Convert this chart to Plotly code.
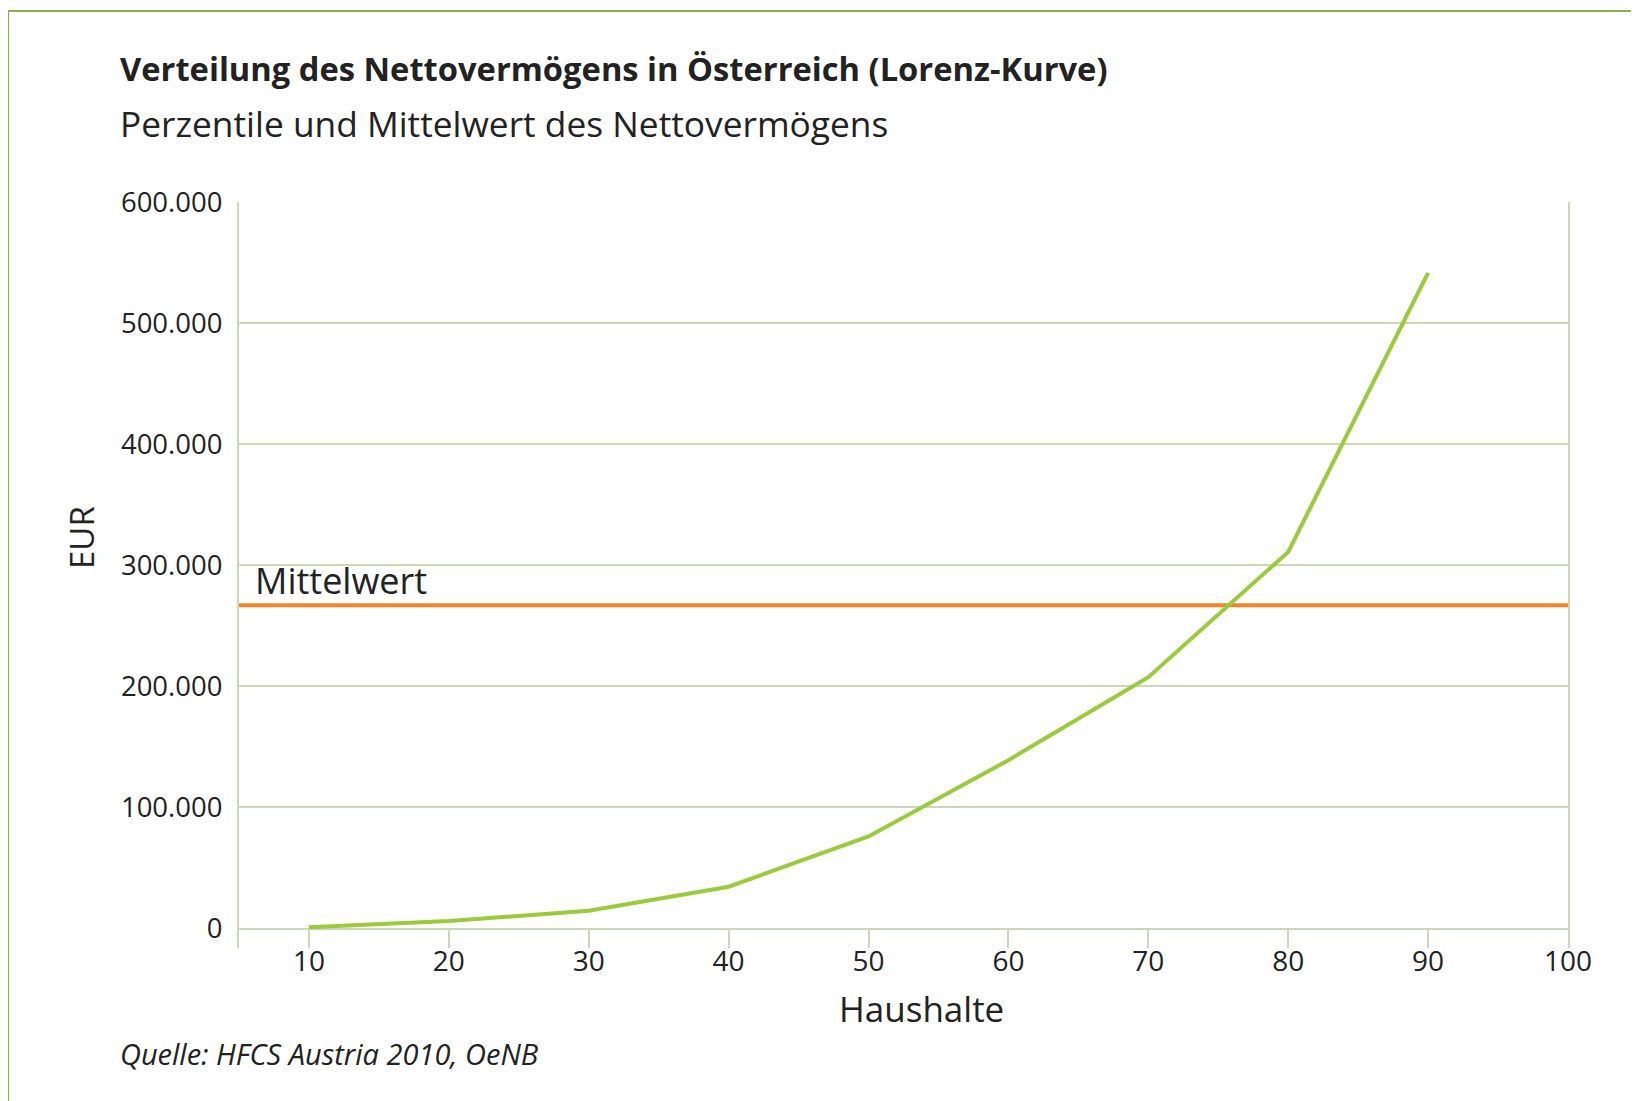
import plotly.graph_objects as go

# Data
percentiles = [10, 20, 30, 40, 50, 60, 70, 80, 90]
net_wealth = [1000, 6200, 14700, 34500, 76000, 139000, 207600, 311000, 541500]
mean_value = 267000
x_ticks = [10, 20, 30, 40, 50, 60, 70, 80, 90, 100]
y_ticks = [0, 100000, 200000, 300000, 400000, 500000, 600000]

W, H = 1639, 1101
OFF = 8  # page body margin offset
L, R, T, B = 239 - OFF, 1568 - OFF, 202 - OFF, 948 - OFF
pw, ph = R - L, B - T


def px(x):
    return (x - OFF - L) / pw


def py(y):
    return (B - (y - OFF)) / ph


FONT = "Open Sans"
GRID = "#CCD8B6"
GREEN = "#9ACB3A"
ORANGE = "#F5832A"
FRAME = "#8DAF4C"
TXT = "#222222"

fig = go.Figure()

fig.add_trace(go.Scatter(
    x=[5, 100], y=[mean_value, mean_value], mode="lines",
    line=dict(color=ORANGE, width=4), hoverinfo="skip", showlegend=False))

fig.add_trace(go.Scatter(
    x=percentiles, y=net_wealth, mode="lines",
    line=dict(color=GREEN, width=4), showlegend=False))

fig.update_layout(
    width=W, height=H,
    margin=dict(l=L, r=W - R, t=T, b=H - B, autoexpand=False),
    paper_bgcolor="white", plot_bgcolor="white",
    separators=",.",
    font=dict(family=FONT, color=TXT),
    xaxis=dict(
        range=[5, 100], tickvals=x_ticks, ticktext=[str(v) for v in x_ticks],
        showgrid=False, zeroline=False, showline=False,
        ticks="inside", ticklen=19, tickwidth=2, tickcolor=GRID,
        tickfont=dict(size=28, color=TXT), ticklabelstandoff=-6,
    ),
    yaxis=dict(
        range=[-16100, 600000], tickvals=y_ticks, tickformat=",d",
        showgrid=True, gridcolor=GRID, gridwidth=2, zeroline=False,
        showline=True, linecolor=GRID, linewidth=2, mirror=True,
        ticks="", tickfont=dict(size=27.5, color=TXT), ticklabelstandoff=9,
    ),
)

ann = [
    dict(text="<b>Verteilung des Nettovermögens in Österreich (Lorenz-Kurve)</b>",
         x=px(118), y=py(68), xanchor="left", yanchor="middle",
         font=dict(size=32.7, color=TXT)),
    dict(text="Perzentile und Mittelwert des Nettovermögens",
         x=px(118), y=py(123), xanchor="left", yanchor="middle",
         font=dict(size=35.3, color=TXT)),
    dict(text="EUR", x=px(81), y=py(538), xanchor="center", yanchor="middle",
         textangle=-90, font=dict(size=33, color=TXT)),
    dict(text="Haushalte", x=px(921), y=py(1008), xanchor="center", yanchor="middle",
         font=dict(size=35, color=TXT)),
    dict(text="<i>Quelle: HFCS Austria 2010, OeNB</i>",
         x=px(118), y=py(1053), xanchor="left", yanchor="middle",
         font=dict(size=29, color=TXT)),
]
for a in ann:
    a.update(xref="paper", yref="paper", showarrow=False)
fig.update_layout(annotations=ann)

fig.add_annotation(text="Mittelwert", xref="x", yref="y", x=5, y=mean_value,
                   xanchor="left", yanchor="bottom", xshift=14, yshift=-2,
                   showarrow=False, font=dict(size=36, color=TXT))

# outer frame (top and left edges)
fig.add_shape(type="line", xref="paper", yref="paper",
              x0=px(8), x1=px(1700), y0=py(11), y1=py(11),
              line=dict(color=FRAME, width=2))
fig.add_shape(type="line", xref="paper", yref="paper",
              x0=px(8), x1=px(8), y0=py(11), y1=py(1150),
              line=dict(color=FRAME, width=2))

fig.write_html("out.html")
